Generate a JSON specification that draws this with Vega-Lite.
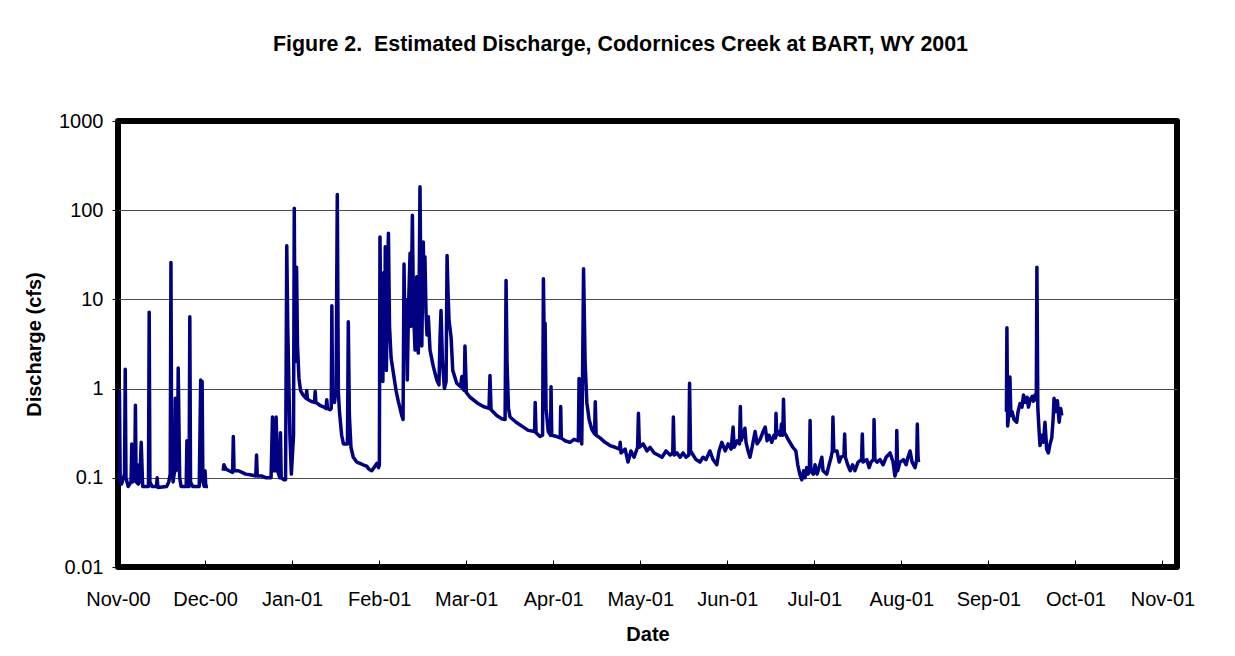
{
  "$schema": "https://vega.github.io/schema/vega-lite/v6.json",
  "width": 1059,
  "height": 446,
  "autosize": {"type": "none"},
  "padding": {"left": 118, "top": 121, "right": 58, "bottom": 89},
  "background": "white",
  "title": {
    "text": "Figure 2.\u00a0 Estimated Discharge, Codornices Creek at BART, WY 2001",
    "font": "Liberation Sans",
    "fontSize": 21.4,
    "fontWeight": "bold",
    "color": "black",
    "anchor": "middle",
    "frame": "group",
    "dx": -27,
    "baseline": "alphabetic",
    "offset": 39
  },
  "config": {
    "view": {"stroke": "black", "strokeWidth": 6, "strokeJoin": "round"},
    "font": "Liberation Sans"
  },
  "data": {
    "values": [
      {"date": "2000-11-10T00:00Z", "cfs": 0.09, "run": 1},
      {"date": "2000-11-10T12:00Z", "cfs": 0.92, "run": 1},
      {"date": "2000-11-10T18:00Z", "cfs": 0.1, "run": 1},
      {"date": "2000-11-11T06:00Z", "cfs": 0.085, "run": 1},
      {"date": "2000-11-12T06:00Z", "cfs": 0.11, "run": 1},
      {"date": "2000-11-12T12:00Z", "cfs": 1.65, "run": 1},
      {"date": "2000-11-12T18:00Z", "cfs": 0.1, "run": 1},
      {"date": "2000-11-13T12:00Z", "cfs": 0.08, "run": 1},
      {"date": "2000-11-14T12:00Z", "cfs": 0.09, "run": 1},
      {"date": "2000-11-14T18:00Z", "cfs": 0.24, "run": 1},
      {"date": "2000-11-15T00:00Z", "cfs": 0.09, "run": 1},
      {"date": "2000-11-15T18:00Z", "cfs": 0.1, "run": 1},
      {"date": "2000-11-16T00:00Z", "cfs": 0.65, "run": 1},
      {"date": "2000-11-16T06:00Z", "cfs": 0.09, "run": 1},
      {"date": "2000-11-17T00:00Z", "cfs": 0.085, "run": 1},
      {"date": "2000-11-17T06:00Z", "cfs": 0.14, "run": 1},
      {"date": "2000-11-17T12:00Z", "cfs": 0.09, "run": 1},
      {"date": "2000-11-18T00:00Z", "cfs": 0.25, "run": 1},
      {"date": "2000-11-18T12:00Z", "cfs": 0.08, "run": 1},
      {"date": "2000-11-20T12:00Z", "cfs": 0.08, "run": 1},
      {"date": "2000-11-20T18:00Z", "cfs": 7.2, "run": 1},
      {"date": "2000-11-21T00:00Z", "cfs": 0.09, "run": 1},
      {"date": "2000-11-21T18:00Z", "cfs": 0.08, "run": 1},
      {"date": "2000-11-23T06:00Z", "cfs": 0.08, "run": 1},
      {"date": "2000-11-23T12:00Z", "cfs": 0.1, "run": 1},
      {"date": "2000-11-23T18:00Z", "cfs": 0.078, "run": 1},
      {"date": "2000-11-26T18:00Z", "cfs": 0.08, "run": 1},
      {"date": "2000-11-27T12:00Z", "cfs": 0.09, "run": 1},
      {"date": "2000-11-28T00:00Z", "cfs": 0.11, "run": 1},
      {"date": "2000-11-28T06:00Z", "cfs": 26, "run": 1},
      {"date": "2000-11-28T12:00Z", "cfs": 0.15, "run": 1},
      {"date": "2000-11-29T00:00Z", "cfs": 0.09, "run": 1},
      {"date": "2000-11-29T12:00Z", "cfs": 0.12, "run": 1},
      {"date": "2000-11-29T18:00Z", "cfs": 0.78, "run": 1},
      {"date": "2000-11-30T00:00Z", "cfs": 0.12, "run": 1},
      {"date": "2000-11-30T12:00Z", "cfs": 0.15, "run": 1},
      {"date": "2000-11-30T18:00Z", "cfs": 1.7, "run": 1},
      {"date": "2000-12-01T06:00Z", "cfs": 0.1, "run": 1},
      {"date": "2000-12-01T18:00Z", "cfs": 0.08, "run": 1},
      {"date": "2000-12-03T12:00Z", "cfs": 0.08, "run": 1},
      {"date": "2000-12-03T18:00Z", "cfs": 0.26, "run": 1},
      {"date": "2000-12-04T00:00Z", "cfs": 0.08, "run": 1},
      {"date": "2000-12-04T12:00Z", "cfs": 0.08, "run": 1},
      {"date": "2000-12-04T18:00Z", "cfs": 6.4, "run": 1},
      {"date": "2000-12-05T00:00Z", "cfs": 0.09, "run": 1},
      {"date": "2000-12-05T18:00Z", "cfs": 0.08, "run": 1},
      {"date": "2000-12-08T00:00Z", "cfs": 0.08, "run": 1},
      {"date": "2000-12-08T12:00Z", "cfs": 1.25, "run": 1},
      {"date": "2000-12-08T18:00Z", "cfs": 0.3, "run": 1},
      {"date": "2000-12-09T00:00Z", "cfs": 1.2, "run": 1},
      {"date": "2000-12-09T06:00Z", "cfs": 0.09, "run": 1},
      {"date": "2000-12-09T18:00Z", "cfs": 0.08, "run": 1},
      {"date": "2000-12-10T00:00Z", "cfs": 0.12, "run": 1},
      {"date": "2000-12-10T06:00Z", "cfs": 0.08, "run": 1},
      {"date": "2000-12-11T00:00Z", "cfs": 0.08, "run": 1},

      {"date": "2000-12-16T06:00Z", "cfs": 0.12, "run": 2},
      {"date": "2000-12-16T12:00Z", "cfs": 0.14, "run": 2},
      {"date": "2000-12-17T06:00Z", "cfs": 0.125, "run": 2},
      {"date": "2000-12-18T06:00Z", "cfs": 0.12, "run": 2},
      {"date": "2000-12-19T12:00Z", "cfs": 0.115, "run": 2},
      {"date": "2000-12-19T18:00Z", "cfs": 0.29, "run": 2},
      {"date": "2000-12-20T00:00Z", "cfs": 0.12, "run": 2},
      {"date": "2000-12-21T12:00Z", "cfs": 0.12, "run": 2},
      {"date": "2000-12-22T18:00Z", "cfs": 0.115, "run": 2},
      {"date": "2000-12-24T00:00Z", "cfs": 0.11, "run": 2},
      {"date": "2000-12-25T12:00Z", "cfs": 0.108, "run": 2},
      {"date": "2000-12-27T12:00Z", "cfs": 0.105, "run": 2},
      {"date": "2000-12-27T18:00Z", "cfs": 0.18, "run": 2},
      {"date": "2000-12-28T00:00Z", "cfs": 0.105, "run": 2},
      {"date": "2000-12-29T12:00Z", "cfs": 0.105, "run": 2},
      {"date": "2000-12-31T00:00Z", "cfs": 0.1, "run": 2},
      {"date": "2001-01-01T18:00Z", "cfs": 0.1, "run": 2},
      {"date": "2001-01-02T06:00Z", "cfs": 0.48, "run": 2},
      {"date": "2001-01-02T12:00Z", "cfs": 0.12, "run": 2},
      {"date": "2001-01-03T06:00Z", "cfs": 0.12, "run": 2},
      {"date": "2001-01-03T12:00Z", "cfs": 0.48, "run": 2},
      {"date": "2001-01-04T00:00Z", "cfs": 0.12, "run": 2},
      {"date": "2001-01-04T18:00Z", "cfs": 0.1, "run": 2},
      {"date": "2001-01-05T00:00Z", "cfs": 0.32, "run": 2},
      {"date": "2001-01-05T06:00Z", "cfs": 0.1, "run": 2},
      {"date": "2001-01-06T06:00Z", "cfs": 0.095, "run": 2},
      {"date": "2001-01-06T18:00Z", "cfs": 0.095, "run": 2},
      {"date": "2001-01-07T04:00Z", "cfs": 40, "run": 2},
      {"date": "2001-01-07T12:00Z", "cfs": 5, "run": 2},
      {"date": "2001-01-08T06:00Z", "cfs": 0.3, "run": 2},
      {"date": "2001-01-08T18:00Z", "cfs": 0.11, "run": 2},
      {"date": "2001-01-09T12:00Z", "cfs": 0.3, "run": 2},
      {"date": "2001-01-09T18:00Z", "cfs": 105, "run": 2},
      {"date": "2001-01-10T01:00Z", "cfs": 2, "run": 2},
      {"date": "2001-01-10T13:00Z", "cfs": 23, "run": 2},
      {"date": "2001-01-10T21:00Z", "cfs": 3, "run": 2},
      {"date": "2001-01-11T09:00Z", "cfs": 1.3, "run": 2},
      {"date": "2001-01-11T22:00Z", "cfs": 0.95, "run": 2},
      {"date": "2001-01-12T18:00Z", "cfs": 0.85, "run": 2},
      {"date": "2001-01-13T19:00Z", "cfs": 0.78, "run": 2},
      {"date": "2001-01-14T01:00Z", "cfs": 0.95, "run": 2},
      {"date": "2001-01-14T07:00Z", "cfs": 0.76, "run": 2},
      {"date": "2001-01-15T12:00Z", "cfs": 0.72, "run": 2},
      {"date": "2001-01-16T17:00Z", "cfs": 0.7, "run": 2},
      {"date": "2001-01-16T23:00Z", "cfs": 0.93, "run": 2},
      {"date": "2001-01-17T05:00Z", "cfs": 0.7, "run": 2},
      {"date": "2001-01-18T14:00Z", "cfs": 0.65, "run": 2},
      {"date": "2001-01-20T00:00Z", "cfs": 0.62, "run": 2},
      {"date": "2001-01-20T17:00Z", "cfs": 0.6, "run": 2},
      {"date": "2001-01-20T23:00Z", "cfs": 0.75, "run": 2},
      {"date": "2001-01-21T05:00Z", "cfs": 0.6, "run": 2},
      {"date": "2001-01-22T02:00Z", "cfs": 0.58, "run": 2},
      {"date": "2001-01-22T12:00Z", "cfs": 0.6, "run": 2},
      {"date": "2001-01-22T17:00Z", "cfs": 8.5, "run": 2},
      {"date": "2001-01-22T23:00Z", "cfs": 0.8, "run": 2},
      {"date": "2001-01-23T15:00Z", "cfs": 0.7, "run": 2},
      {"date": "2001-01-24T04:00Z", "cfs": 1.0, "run": 2},
      {"date": "2001-01-24T14:00Z", "cfs": 150, "run": 2},
      {"date": "2001-01-24T23:00Z", "cfs": 0.9, "run": 2},
      {"date": "2001-01-25T08:00Z", "cfs": 0.55, "run": 2},
      {"date": "2001-01-26T02:00Z", "cfs": 0.3, "run": 2},
      {"date": "2001-01-26T17:00Z", "cfs": 0.24, "run": 2},
      {"date": "2001-01-28T02:00Z", "cfs": 0.24, "run": 2},
      {"date": "2001-01-28T09:00Z", "cfs": 5.6, "run": 2},
      {"date": "2001-01-28T18:00Z", "cfs": 0.5, "run": 2},
      {"date": "2001-01-29T07:00Z", "cfs": 0.22, "run": 2},
      {"date": "2001-01-30T02:00Z", "cfs": 0.17, "run": 2},
      {"date": "2001-01-31T07:00Z", "cfs": 0.15, "run": 2},
      {"date": "2001-02-01T10:00Z", "cfs": 0.145, "run": 2},
      {"date": "2001-02-02T11:00Z", "cfs": 0.14, "run": 2},
      {"date": "2001-02-03T17:00Z", "cfs": 0.135, "run": 2},
      {"date": "2001-02-04T12:00Z", "cfs": 0.125, "run": 2},
      {"date": "2001-02-05T11:00Z", "cfs": 0.12, "run": 2},
      {"date": "2001-02-06T05:00Z", "cfs": 0.13, "run": 2},
      {"date": "2001-02-07T05:00Z", "cfs": 0.145, "run": 2},
      {"date": "2001-02-07T19:00Z", "cfs": 0.13, "run": 2},
      {"date": "2001-02-08T02:00Z", "cfs": 0.14, "run": 2},
      {"date": "2001-02-08T07:00Z", "cfs": 50, "run": 2},
      {"date": "2001-02-08T16:00Z", "cfs": 3, "run": 2},
      {"date": "2001-02-09T00:00Z", "cfs": 12, "run": 2},
      {"date": "2001-02-09T07:00Z", "cfs": 1.2, "run": 2},
      {"date": "2001-02-09T15:00Z", "cfs": 20, "run": 2},
      {"date": "2001-02-09T22:00Z", "cfs": 3, "run": 2},
      {"date": "2001-02-10T03:00Z", "cfs": 39, "run": 2},
      {"date": "2001-02-10T12:00Z", "cfs": 1.6, "run": 2},
      {"date": "2001-02-10T20:00Z", "cfs": 15, "run": 2},
      {"date": "2001-02-11T05:00Z", "cfs": 55, "run": 2},
      {"date": "2001-02-11T14:00Z", "cfs": 5, "run": 2},
      {"date": "2001-02-12T03:00Z", "cfs": 2.2, "run": 2},
      {"date": "2001-02-12T22:00Z", "cfs": 1.5, "run": 2},
      {"date": "2001-02-13T20:00Z", "cfs": 0.95, "run": 2},
      {"date": "2001-02-14T15:00Z", "cfs": 0.72, "run": 2},
      {"date": "2001-02-15T19:00Z", "cfs": 0.5, "run": 2},
      {"date": "2001-02-16T06:00Z", "cfs": 0.45, "run": 2},
      {"date": "2001-02-16T14:00Z", "cfs": 25, "run": 2},
      {"date": "2001-02-16T22:00Z", "cfs": 3, "run": 2},
      {"date": "2001-02-17T07:00Z", "cfs": 10, "run": 2},
      {"date": "2001-02-17T17:00Z", "cfs": 1.25, "run": 2},
      {"date": "2001-02-18T03:00Z", "cfs": 8, "run": 2},
      {"date": "2001-02-18T16:00Z", "cfs": 33, "run": 2},
      {"date": "2001-02-19T00:00Z", "cfs": 5, "run": 2},
      {"date": "2001-02-19T11:00Z", "cfs": 88, "run": 2},
      {"date": "2001-02-19T20:00Z", "cfs": 8, "run": 2},
      {"date": "2001-02-20T09:00Z", "cfs": 2.7, "run": 2},
      {"date": "2001-02-20T23:00Z", "cfs": 18, "run": 2},
      {"date": "2001-02-21T12:00Z", "cfs": 2.5, "run": 2},
      {"date": "2001-02-21T17:00Z", "cfs": 6, "run": 2},
      {"date": "2001-02-22T02:00Z", "cfs": 183, "run": 2},
      {"date": "2001-02-22T11:00Z", "cfs": 8, "run": 2},
      {"date": "2001-02-22T17:00Z", "cfs": 3, "run": 2},
      {"date": "2001-02-23T05:00Z", "cfs": 44, "run": 2},
      {"date": "2001-02-23T13:00Z", "cfs": 10, "run": 2},
      {"date": "2001-02-23T19:00Z", "cfs": 30, "run": 2},
      {"date": "2001-02-24T04:00Z", "cfs": 7, "run": 2},
      {"date": "2001-02-24T12:00Z", "cfs": 4, "run": 2},
      {"date": "2001-02-24T23:00Z", "cfs": 6.4, "run": 2},
      {"date": "2001-02-25T13:00Z", "cfs": 2.7, "run": 2},
      {"date": "2001-02-26T17:00Z", "cfs": 1.75, "run": 2},
      {"date": "2001-02-27T21:00Z", "cfs": 1.25, "run": 2},
      {"date": "2001-02-28T15:00Z", "cfs": 1.1, "run": 2},
      {"date": "2001-03-01T00:00Z", "cfs": 3.8, "run": 2},
      {"date": "2001-03-01T08:00Z", "cfs": 7.5, "run": 2},
      {"date": "2001-03-01T20:00Z", "cfs": 2, "run": 2},
      {"date": "2001-03-02T12:00Z", "cfs": 1.0, "run": 2},
      {"date": "2001-03-03T02:00Z", "cfs": 1.2, "run": 2},
      {"date": "2001-03-03T10:00Z", "cfs": 31, "run": 2},
      {"date": "2001-03-03T18:00Z", "cfs": 12, "run": 2},
      {"date": "2001-03-04T02:00Z", "cfs": 5.9, "run": 2},
      {"date": "2001-03-04T19:00Z", "cfs": 3.8, "run": 2},
      {"date": "2001-03-05T09:00Z", "cfs": 1.6, "run": 2},
      {"date": "2001-03-06T18:00Z", "cfs": 1.15, "run": 2},
      {"date": "2001-03-08T02:00Z", "cfs": 1.05, "run": 2},
      {"date": "2001-03-08T12:00Z", "cfs": 1.37, "run": 2},
      {"date": "2001-03-08T20:00Z", "cfs": 1.0, "run": 2},
      {"date": "2001-03-09T08:00Z", "cfs": 0.95, "run": 2},
      {"date": "2001-03-09T14:00Z", "cfs": 3.0, "run": 2},
      {"date": "2001-03-10T02:00Z", "cfs": 0.9, "run": 2},
      {"date": "2001-03-11T08:00Z", "cfs": 0.8, "run": 2},
      {"date": "2001-03-12T11:00Z", "cfs": 0.75, "run": 2},
      {"date": "2001-03-14T03:00Z", "cfs": 0.68, "run": 2},
      {"date": "2001-03-15T22:00Z", "cfs": 0.63, "run": 2},
      {"date": "2001-03-17T21:00Z", "cfs": 0.6, "run": 2},
      {"date": "2001-03-18T05:00Z", "cfs": 1.4, "run": 2},
      {"date": "2001-03-18T14:00Z", "cfs": 0.58, "run": 2},
      {"date": "2001-03-20T13:00Z", "cfs": 0.5, "run": 2},
      {"date": "2001-03-22T06:00Z", "cfs": 0.46, "run": 2},
      {"date": "2001-03-23T10:00Z", "cfs": 0.45, "run": 2},
      {"date": "2001-03-23T18:00Z", "cfs": 16.3, "run": 2},
      {"date": "2001-03-24T02:00Z", "cfs": 2, "run": 2},
      {"date": "2001-03-24T14:00Z", "cfs": 0.6, "run": 2},
      {"date": "2001-03-25T03:00Z", "cfs": 0.48, "run": 2},
      {"date": "2001-03-27T05:00Z", "cfs": 0.42, "run": 2},
      {"date": "2001-03-29T17:00Z", "cfs": 0.37, "run": 2},
      {"date": "2001-03-31T10:00Z", "cfs": 0.34, "run": 2},
      {"date": "2001-04-02T14:00Z", "cfs": 0.33, "run": 2},
      {"date": "2001-04-02T19:00Z", "cfs": 0.7, "run": 2},
      {"date": "2001-04-03T02:00Z", "cfs": 0.32, "run": 2},
      {"date": "2001-04-04T11:00Z", "cfs": 0.29, "run": 2},
      {"date": "2001-04-05T08:00Z", "cfs": 0.3, "run": 2},
      {"date": "2001-04-05T15:00Z", "cfs": 17, "run": 2},
      {"date": "2001-04-06T00:00Z", "cfs": 2, "run": 2},
      {"date": "2001-04-06T05:00Z", "cfs": 5.4, "run": 2},
      {"date": "2001-04-06T13:00Z", "cfs": 0.6, "run": 2},
      {"date": "2001-04-07T07:00Z", "cfs": 0.33, "run": 2},
      {"date": "2001-04-08T02:00Z", "cfs": 0.3, "run": 2},
      {"date": "2001-04-08T06:00Z", "cfs": 1.05, "run": 2},
      {"date": "2001-04-08T12:00Z", "cfs": 0.3, "run": 2},
      {"date": "2001-04-10T05:00Z", "cfs": 0.29, "run": 2},
      {"date": "2001-04-11T10:00Z", "cfs": 0.28, "run": 2},
      {"date": "2001-04-11T14:00Z", "cfs": 0.63, "run": 2},
      {"date": "2001-04-11T19:00Z", "cfs": 0.28, "run": 2},
      {"date": "2001-04-13T02:00Z", "cfs": 0.26, "run": 2},
      {"date": "2001-04-14T19:00Z", "cfs": 0.25, "run": 2},
      {"date": "2001-04-16T05:00Z", "cfs": 0.27, "run": 2},
      {"date": "2001-04-17T16:00Z", "cfs": 0.26, "run": 2},
      {"date": "2001-04-17T22:00Z", "cfs": 1.3, "run": 2},
      {"date": "2001-04-18T06:00Z", "cfs": 0.3, "run": 2},
      {"date": "2001-04-18T20:00Z", "cfs": 0.24, "run": 2},
      {"date": "2001-04-19T04:00Z", "cfs": 2, "run": 2},
      {"date": "2001-04-19T11:00Z", "cfs": 22, "run": 2},
      {"date": "2001-04-20T00:00Z", "cfs": 2, "run": 2},
      {"date": "2001-04-20T14:00Z", "cfs": 0.7, "run": 2},
      {"date": "2001-04-21T09:00Z", "cfs": 0.45, "run": 2},
      {"date": "2001-04-22T07:00Z", "cfs": 0.35, "run": 2},
      {"date": "2001-04-23T06:00Z", "cfs": 0.31, "run": 2},
      {"date": "2001-04-23T12:00Z", "cfs": 0.71, "run": 2},
      {"date": "2001-04-23T19:00Z", "cfs": 0.3, "run": 2},
      {"date": "2001-04-25T03:00Z", "cfs": 0.28, "run": 2},
      {"date": "2001-04-26T21:00Z", "cfs": 0.25, "run": 2},
      {"date": "2001-04-28T14:00Z", "cfs": 0.23, "run": 2},
      {"date": "2001-04-30T08:00Z", "cfs": 0.22, "run": 2},
      {"date": "2001-05-01T21:00Z", "cfs": 0.21, "run": 2},
      {"date": "2001-05-02T02:00Z", "cfs": 0.25, "run": 2},
      {"date": "2001-05-02T09:00Z", "cfs": 0.19, "run": 2},
      {"date": "2001-05-03T19:00Z", "cfs": 0.21, "run": 2},
      {"date": "2001-05-04T19:00Z", "cfs": 0.15, "run": 2},
      {"date": "2001-05-05T19:00Z", "cfs": 0.2, "run": 2},
      {"date": "2001-05-06T21:00Z", "cfs": 0.17, "run": 2},
      {"date": "2001-05-08T02:00Z", "cfs": 0.22, "run": 2},
      {"date": "2001-05-08T09:00Z", "cfs": 0.53, "run": 2},
      {"date": "2001-05-08T17:00Z", "cfs": 0.22, "run": 2},
      {"date": "2001-05-10T00:00Z", "cfs": 0.24, "run": 2},
      {"date": "2001-05-11T08:00Z", "cfs": 0.2, "run": 2},
      {"date": "2001-05-12T09:00Z", "cfs": 0.22, "run": 2},
      {"date": "2001-05-13T19:00Z", "cfs": 0.19, "run": 2},
      {"date": "2001-05-15T03:00Z", "cfs": 0.18, "run": 2},
      {"date": "2001-05-16T12:00Z", "cfs": 0.17, "run": 2},
      {"date": "2001-05-17T21:00Z", "cfs": 0.2, "run": 2},
      {"date": "2001-05-19T07:00Z", "cfs": 0.18, "run": 2},
      {"date": "2001-05-20T05:00Z", "cfs": 0.19, "run": 2},
      {"date": "2001-05-20T10:00Z", "cfs": 0.48, "run": 2},
      {"date": "2001-05-20T17:00Z", "cfs": 0.18, "run": 2},
      {"date": "2001-05-21T16:00Z", "cfs": 0.19, "run": 2},
      {"date": "2001-05-22T17:00Z", "cfs": 0.17, "run": 2},
      {"date": "2001-05-23T18:00Z", "cfs": 0.19, "run": 2},
      {"date": "2001-05-24T19:00Z", "cfs": 0.17, "run": 2},
      {"date": "2001-05-25T18:00Z", "cfs": 0.18, "run": 2},
      {"date": "2001-05-26T00:00Z", "cfs": 1.15, "run": 2},
      {"date": "2001-05-26T08:00Z", "cfs": 0.2, "run": 2},
      {"date": "2001-05-27T05:00Z", "cfs": 0.18, "run": 2},
      {"date": "2001-05-28T05:00Z", "cfs": 0.16, "run": 2},
      {"date": "2001-05-29T14:00Z", "cfs": 0.15, "run": 2},
      {"date": "2001-05-30T15:00Z", "cfs": 0.17, "run": 2},
      {"date": "2001-05-31T16:00Z", "cfs": 0.16, "run": 2},
      {"date": "2001-06-02T00:00Z", "cfs": 0.2, "run": 2},
      {"date": "2001-06-03T02:00Z", "cfs": 0.16, "run": 2},
      {"date": "2001-06-04T09:00Z", "cfs": 0.14, "run": 2},
      {"date": "2001-06-05T04:00Z", "cfs": 0.2, "run": 2},
      {"date": "2001-06-06T03:00Z", "cfs": 0.25, "run": 2},
      {"date": "2001-06-07T07:00Z", "cfs": 0.2, "run": 2},
      {"date": "2001-06-08T07:00Z", "cfs": 0.24, "run": 2},
      {"date": "2001-06-09T08:00Z", "cfs": 0.21, "run": 2},
      {"date": "2001-06-10T00:00Z", "cfs": 0.37, "run": 2},
      {"date": "2001-06-10T09:00Z", "cfs": 0.22, "run": 2},
      {"date": "2001-06-11T10:00Z", "cfs": 0.26, "run": 2},
      {"date": "2001-06-12T05:00Z", "cfs": 0.24, "run": 2},
      {"date": "2001-06-12T12:00Z", "cfs": 0.63, "run": 2},
      {"date": "2001-06-12T18:00Z", "cfs": 0.26, "run": 2},
      {"date": "2001-06-13T10:00Z", "cfs": 0.3, "run": 2},
      {"date": "2001-06-14T02:00Z", "cfs": 0.36, "run": 2},
      {"date": "2001-06-14T11:00Z", "cfs": 0.25, "run": 2},
      {"date": "2001-06-15T04:00Z", "cfs": 0.2, "run": 2},
      {"date": "2001-06-15T20:00Z", "cfs": 0.17, "run": 2},
      {"date": "2001-06-16T13:00Z", "cfs": 0.22, "run": 2},
      {"date": "2001-06-17T14:00Z", "cfs": 0.33, "run": 2},
      {"date": "2001-06-18T07:00Z", "cfs": 0.24, "run": 2},
      {"date": "2001-06-19T08:00Z", "cfs": 0.27, "run": 2},
      {"date": "2001-06-20T08:00Z", "cfs": 0.33, "run": 2},
      {"date": "2001-06-21T02:00Z", "cfs": 0.37, "run": 2},
      {"date": "2001-06-21T17:00Z", "cfs": 0.26, "run": 2},
      {"date": "2001-06-22T09:00Z", "cfs": 0.3, "run": 2},
      {"date": "2001-06-23T08:00Z", "cfs": 0.25, "run": 2},
      {"date": "2001-06-24T02:00Z", "cfs": 0.3, "run": 2},
      {"date": "2001-06-24T15:00Z", "cfs": 0.28, "run": 2},
      {"date": "2001-06-24T19:00Z", "cfs": 0.53, "run": 2},
      {"date": "2001-06-25T01:00Z", "cfs": 0.3, "run": 2},
      {"date": "2001-06-25T20:00Z", "cfs": 0.33, "run": 2},
      {"date": "2001-06-26T08:00Z", "cfs": 0.3, "run": 2},
      {"date": "2001-06-26T16:00Z", "cfs": 0.4, "run": 2},
      {"date": "2001-06-27T03:00Z", "cfs": 0.3, "run": 2},
      {"date": "2001-06-27T09:00Z", "cfs": 0.76, "run": 2},
      {"date": "2001-06-27T16:00Z", "cfs": 0.32, "run": 2},
      {"date": "2001-06-28T06:00Z", "cfs": 0.3, "run": 2},
      {"date": "2001-06-28T22:00Z", "cfs": 0.27, "run": 2},
      {"date": "2001-06-29T14:00Z", "cfs": 0.25, "run": 2},
      {"date": "2001-06-30T14:00Z", "cfs": 0.22, "run": 2},
      {"date": "2001-07-01T15:00Z", "cfs": 0.2, "run": 2},
      {"date": "2001-07-02T07:00Z", "cfs": 0.14, "run": 2},
      {"date": "2001-07-03T00:00Z", "cfs": 0.11, "run": 2},
      {"date": "2001-07-03T16:00Z", "cfs": 0.095, "run": 2},
      {"date": "2001-07-04T07:00Z", "cfs": 0.12, "run": 2},
      {"date": "2001-07-04T19:00Z", "cfs": 0.1, "run": 2},
      {"date": "2001-07-05T09:00Z", "cfs": 0.13, "run": 2},
      {"date": "2001-07-05T20:00Z", "cfs": 0.11, "run": 2},
      {"date": "2001-07-06T07:00Z", "cfs": 0.12, "run": 2},
      {"date": "2001-07-06T13:00Z", "cfs": 0.44, "run": 2},
      {"date": "2001-07-06T19:00Z", "cfs": 0.12, "run": 2},
      {"date": "2001-07-07T16:00Z", "cfs": 0.11, "run": 2},
      {"date": "2001-07-08T06:00Z", "cfs": 0.14, "run": 2},
      {"date": "2001-07-08T23:00Z", "cfs": 0.11, "run": 2},
      {"date": "2001-07-09T15:00Z", "cfs": 0.13, "run": 2},
      {"date": "2001-07-10T14:00Z", "cfs": 0.17, "run": 2},
      {"date": "2001-07-11T00:00Z", "cfs": 0.12, "run": 2},
      {"date": "2001-07-12T07:00Z", "cfs": 0.11, "run": 2},
      {"date": "2001-07-13T02:00Z", "cfs": 0.14, "run": 2},
      {"date": "2001-07-13T19:00Z", "cfs": 0.17, "run": 2},
      {"date": "2001-07-14T05:00Z", "cfs": 0.2, "run": 2},
      {"date": "2001-07-14T10:00Z", "cfs": 0.48, "run": 2},
      {"date": "2001-07-14T17:00Z", "cfs": 0.2, "run": 2},
      {"date": "2001-07-15T19:00Z", "cfs": 0.2, "run": 2},
      {"date": "2001-07-16T14:00Z", "cfs": 0.15, "run": 2},
      {"date": "2001-07-17T05:00Z", "cfs": 0.17, "run": 2},
      {"date": "2001-07-18T05:00Z", "cfs": 0.18, "run": 2},
      {"date": "2001-07-18T11:00Z", "cfs": 0.31, "run": 2},
      {"date": "2001-07-18T17:00Z", "cfs": 0.17, "run": 2},
      {"date": "2001-07-19T12:00Z", "cfs": 0.14, "run": 2},
      {"date": "2001-07-20T09:00Z", "cfs": 0.12, "run": 2},
      {"date": "2001-07-21T05:00Z", "cfs": 0.14, "run": 2},
      {"date": "2001-07-22T00:00Z", "cfs": 0.12, "run": 2},
      {"date": "2001-07-23T02:00Z", "cfs": 0.15, "run": 2},
      {"date": "2001-07-24T07:00Z", "cfs": 0.16, "run": 2},
      {"date": "2001-07-24T13:00Z", "cfs": 0.31, "run": 2},
      {"date": "2001-07-24T19:00Z", "cfs": 0.15, "run": 2},
      {"date": "2001-07-26T02:00Z", "cfs": 0.16, "run": 2},
      {"date": "2001-07-26T21:00Z", "cfs": 0.13, "run": 2},
      {"date": "2001-07-27T13:00Z", "cfs": 0.15, "run": 2},
      {"date": "2001-07-28T10:00Z", "cfs": 0.16, "run": 2},
      {"date": "2001-07-28T14:00Z", "cfs": 0.45, "run": 2},
      {"date": "2001-07-28T21:00Z", "cfs": 0.16, "run": 2},
      {"date": "2001-07-29T15:00Z", "cfs": 0.15, "run": 2},
      {"date": "2001-07-30T16:00Z", "cfs": 0.16, "run": 2},
      {"date": "2001-07-31T17:00Z", "cfs": 0.14, "run": 2},
      {"date": "2001-08-01T18:00Z", "cfs": 0.17, "run": 2},
      {"date": "2001-08-03T03:00Z", "cfs": 0.19, "run": 2},
      {"date": "2001-08-04T03:00Z", "cfs": 0.15, "run": 2},
      {"date": "2001-08-04T19:00Z", "cfs": 0.105, "run": 2},
      {"date": "2001-08-05T06:00Z", "cfs": 0.12, "run": 2},
      {"date": "2001-08-05T10:00Z", "cfs": 0.34, "run": 2},
      {"date": "2001-08-05T17:00Z", "cfs": 0.12, "run": 2},
      {"date": "2001-08-06T13:00Z", "cfs": 0.15, "run": 2},
      {"date": "2001-08-07T17:00Z", "cfs": 0.16, "run": 2},
      {"date": "2001-08-08T15:00Z", "cfs": 0.14, "run": 2},
      {"date": "2001-08-09T07:00Z", "cfs": 0.17, "run": 2},
      {"date": "2001-08-10T00:00Z", "cfs": 0.2, "run": 2},
      {"date": "2001-08-10T17:00Z", "cfs": 0.15, "run": 2},
      {"date": "2001-08-11T17:00Z", "cfs": 0.13, "run": 2},
      {"date": "2001-08-12T07:00Z", "cfs": 0.16, "run": 2},
      {"date": "2001-08-12T12:00Z", "cfs": 0.4, "run": 2},
      {"date": "2001-08-12T18:00Z", "cfs": 0.17, "run": 2},
      {"date": "2001-08-12T22:00Z", "cfs": 0.15, "run": 2},

      {"date": "2001-09-12T05:00Z", "cfs": 0.55, "run": 3},
      {"date": "2001-09-12T09:00Z", "cfs": 4.8, "run": 3},
      {"date": "2001-09-12T15:00Z", "cfs": 0.38, "run": 3},
      {"date": "2001-09-13T00:00Z", "cfs": 0.5, "run": 3},
      {"date": "2001-09-13T10:00Z", "cfs": 1.35, "run": 3},
      {"date": "2001-09-13T18:00Z", "cfs": 0.5, "run": 3},
      {"date": "2001-09-14T04:00Z", "cfs": 0.55, "run": 3},
      {"date": "2001-09-14T20:00Z", "cfs": 0.45, "run": 3},
      {"date": "2001-09-15T18:00Z", "cfs": 0.42, "run": 3},
      {"date": "2001-09-16T05:00Z", "cfs": 0.55, "run": 3},
      {"date": "2001-09-16T22:00Z", "cfs": 0.68, "run": 3},
      {"date": "2001-09-17T14:00Z", "cfs": 0.62, "run": 3},
      {"date": "2001-09-18T02:00Z", "cfs": 0.85, "run": 3},
      {"date": "2001-09-18T16:00Z", "cfs": 0.7, "run": 3},
      {"date": "2001-09-19T08:00Z", "cfs": 0.8, "run": 3},
      {"date": "2001-09-19T19:00Z", "cfs": 0.62, "run": 3},
      {"date": "2001-09-20T09:00Z", "cfs": 0.75, "run": 3},
      {"date": "2001-09-21T02:00Z", "cfs": 0.82, "run": 3},
      {"date": "2001-09-21T12:00Z", "cfs": 0.72, "run": 3},
      {"date": "2001-09-22T02:00Z", "cfs": 0.85, "run": 3},
      {"date": "2001-09-22T12:00Z", "cfs": 0.75, "run": 3},
      {"date": "2001-09-22T17:00Z", "cfs": 23, "run": 3},
      {"date": "2001-09-23T01:00Z", "cfs": 0.6, "run": 3},
      {"date": "2001-09-23T12:00Z", "cfs": 0.32, "run": 3},
      {"date": "2001-09-23T19:00Z", "cfs": 0.23, "run": 3},
      {"date": "2001-09-24T07:00Z", "cfs": 0.3, "run": 3},
      {"date": "2001-09-24T23:00Z", "cfs": 0.25, "run": 3},
      {"date": "2001-09-25T12:00Z", "cfs": 0.42, "run": 3},
      {"date": "2001-09-26T02:00Z", "cfs": 0.21, "run": 3},
      {"date": "2001-09-26T16:00Z", "cfs": 0.19, "run": 3},
      {"date": "2001-09-27T06:00Z", "cfs": 0.24, "run": 3},
      {"date": "2001-09-27T20:00Z", "cfs": 0.28, "run": 3},
      {"date": "2001-09-28T07:00Z", "cfs": 0.45, "run": 3},
      {"date": "2001-09-28T15:00Z", "cfs": 0.78, "run": 3},
      {"date": "2001-09-29T04:00Z", "cfs": 0.55, "run": 3},
      {"date": "2001-09-29T19:00Z", "cfs": 0.73, "run": 3},
      {"date": "2001-09-30T09:00Z", "cfs": 0.42, "run": 3},
      {"date": "2001-09-30T22:00Z", "cfs": 0.6, "run": 3},
      {"date": "2001-10-01T07:00Z", "cfs": 0.5, "run": 3}
    ]
  },
  "mark": {"type": "line", "color": "#000080", "strokeWidth": 3.5, "strokeJoin": "round", "clip": true},
  "encoding": {
    "x": {
      "field": "date",
      "type": "temporal",
      "scale": {
        "type": "utc",
        "nice": false,
        "domain": [
          {"year": 2000, "month": 11, "date": 10, "utc": true},
          {"year": 2001, "month": 11, "date": 10, "utc": true}
        ]
      },
      "axis": {
        "title": "Date",
        "values": [
          {"year": 2000, "month": 11, "date": 10, "utc": true},
          {"year": 2000, "month": 12, "date": 10, "utc": true},
          {"year": 2001, "month": 1, "date": 9, "utc": true},
          {"year": 2001, "month": 2, "date": 8, "utc": true},
          {"year": 2001, "month": 3, "date": 10, "utc": true},
          {"year": 2001, "month": 4, "date": 9, "utc": true},
          {"year": 2001, "month": 5, "date": 9, "utc": true},
          {"year": 2001, "month": 6, "date": 8, "utc": true},
          {"year": 2001, "month": 7, "date": 8, "utc": true},
          {"year": 2001, "month": 8, "date": 7, "utc": true},
          {"year": 2001, "month": 9, "date": 6, "utc": true},
          {"year": 2001, "month": 10, "date": 6, "utc": true},
          {"year": 2001, "month": 11, "date": 5, "utc": true}
        ],
        "format": "%b-%y",
        "labelFont": "Liberation Sans",
        "labelFontSize": 20,
        "labelColor": "black",
        "labelFlush": false,
        "labelOverlap": false,
        "labelPadding": 29,
        "tickColor": "black",
        "tickSize": -7,
        "tickWidth": 1,
        "domain": false,
        "grid": false,
        "titleFont": "Liberation Sans",
        "titleFontSize": 20,
        "titleFontWeight": "bold",
        "titleColor": "black",
        "titlePadding": 15
      }
    },
    "y": {
      "field": "cfs",
      "type": "quantitative",
      "scale": {"type": "log", "domain": [0.01, 1000], "nice": false},
      "axis": {
        "title": "Discharge (cfs)",
        "values": [0.01, 0.1, 1, 10, 100, 1000],
        "format": ".2~f",
        "labelFont": "Liberation Sans",
        "labelFontSize": 20,
        "labelColor": "black",
        "labelPadding": 9,
        "tickColor": "black",
        "tickSize": 6,
        "tickWidth": 1,
        "domain": false,
        "grid": true,
        "gridColor": {"condition": {"test": "datum.value <= 0.01 || datum.value >= 1000", "value": "black"}, "value": "#4d4d4d"},
        "gridWidth": 1.2,
        "titleFont": "Liberation Sans",
        "titleFontSize": 20,
        "titleFontWeight": "bold",
        "titleColor": "black",
        "titlePadding": 14
      }
    },
    "detail": {"field": "run", "type": "nominal"}
  }
}
